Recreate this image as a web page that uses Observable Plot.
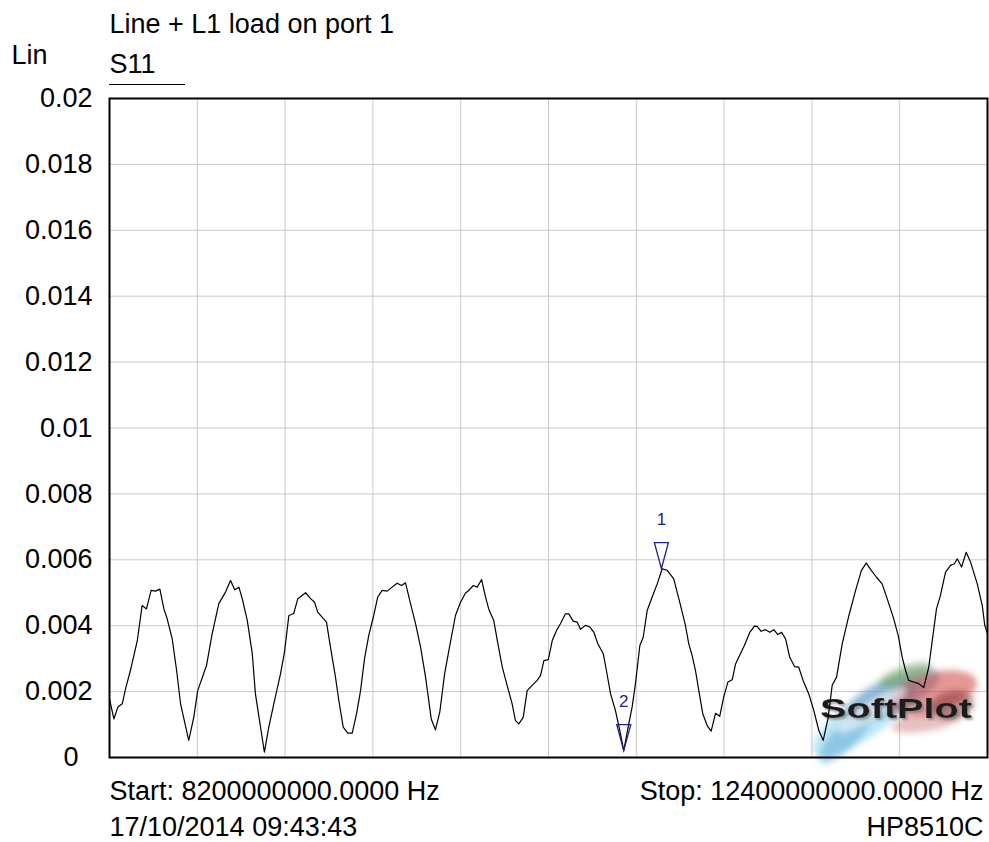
<!DOCTYPE html>
<html>
<head>
<meta charset="utf-8">
<script src="https://cdn.jsdelivr.net/npm/d3@7"></script>
<script src="https://cdn.jsdelivr.net/npm/@observablehq/plot@0.6"></script>
<style>
  html, body { margin: 0; padding: 0; background: #ffffff; }
  svg { display: block; }
</style>
</head>
<body>
<div id="chart"></div>
<script>
// ---------- data ----------
const titleText = "Line + L1 load on port 1";
const traceName = "S11";
const yUnit = "Lin";
const startText = "Start: 8200000000.0000 Hz";
const stopText = "Stop: 12400000000.0000 Hz";
const dateText = "17/10/2014 09:43:43";
const instrText = "HP8510C";

// frequency (GHz) of each trace point
const freqGHz = [8.200, 8.221, 8.240, 8.261, 8.277, 8.300, 8.333, 8.356, 8.377, 8.399,
  8.420, 8.441, 8.460, 8.476, 8.500, 8.521, 8.540, 8.579, 8.603, 8.622,
  8.664, 8.691, 8.723, 8.755, 8.779, 8.799, 8.819, 8.835, 8.859, 8.883,
  8.898, 8.941, 8.962, 8.986, 9.018, 9.037, 9.058, 9.081, 9.101, 9.138,
  9.162, 9.181, 9.196, 9.238, 9.257, 9.281, 9.297, 9.318, 9.340, 9.361,
  9.382, 9.401, 9.420, 9.440, 9.464, 9.483, 9.504, 9.528, 9.552, 9.576,
  9.597, 9.616, 9.640, 9.664, 9.688, 9.712, 9.739, 9.759, 9.780, 9.803,
  9.828, 9.855, 9.879, 9.903, 9.919, 9.940, 9.959, 9.980, 9.999, 10.014,
  10.038, 10.058, 10.079, 10.102, 10.126, 10.142, 10.158, 10.179, 10.198, 10.222,
  10.246, 10.262, 10.278, 10.299, 10.318, 10.338, 10.357, 10.381, 10.397, 10.418,
  10.437, 10.453, 10.477, 10.498, 10.517, 10.536, 10.562, 10.577, 10.597, 10.620,
  10.641, 10.660, 10.684, 10.700, 10.716, 10.737, 10.753, 10.772, 10.796, 10.820,
  10.844, 10.868, 10.899, 10.928, 10.955, 10.971, 10.987, 11.003, 11.019, 11.038,
  11.059, 11.078, 11.099, 11.119, 11.138, 11.158, 11.179, 11.195, 11.218, 11.237,
  11.263, 11.285, 11.298, 11.317, 11.338, 11.359, 11.378, 11.397, 11.415, 11.434,
  11.454, 11.477, 11.497, 11.518, 11.545, 11.569, 11.593, 11.614, 11.637, 11.657,
  11.678, 11.705, 11.737, 11.769, 11.797, 11.820, 11.844, 11.869, 11.896, 11.920,
  11.949, 11.973, 11.992, 12.008, 12.023, 12.047, 12.071, 12.095, 12.119, 12.140,
  12.156, 12.175, 12.199, 12.223, 12.242, 12.255, 12.276, 12.298, 12.319, 12.351,
  12.375, 12.387, 12.400];

// |S11| (linear) in thousandths
const s11_milli = [1.78, 1.17, 1.53, 1.63, 2.09, 2.64, 3.55, 4.61, 4.51, 5.07,
  5.05, 5.11, 4.51, 4.21, 3.60, 2.64, 1.63, 0.52, 1.22, 2.03,
  2.79, 3.75, 4.67, 5.02, 5.37, 5.09, 5.17, 4.82, 4.16, 3.15,
  1.93, 0.16, 0.92, 1.63, 2.54, 3.20, 4.31, 4.37, 4.82, 5.00,
  4.82, 4.71, 4.41, 4.11, 3.35, 2.44, 1.73, 0.92, 0.74, 0.74,
  1.33, 2.03, 3.00, 3.70, 4.31, 4.87, 5.07, 5.05, 5.17, 5.29,
  5.22, 5.30, 4.67, 4.06, 3.35, 2.44, 1.17, 0.84, 1.38, 2.54,
  3.40, 4.31, 4.71, 4.99, 5.07, 5.22, 5.17, 5.40, 4.87, 4.51,
  4.16, 3.45, 2.74, 2.19, 1.63, 1.12, 1.02, 1.22, 2.03, 2.19,
  2.34, 2.49, 2.94, 2.97, 3.55, 3.85, 4.06, 4.36, 4.36, 4.14,
  4.11, 3.89, 4.01, 3.96, 3.80, 3.45, 3.15, 2.64, 1.93, 1.43,
  0.82, 0.21, 1.02, 1.53, 2.24, 3.40, 3.65, 4.46, 4.87, 5.27,
  5.73, 5.68, 5.42, 4.71, 4.01, 3.45, 3.10, 2.64, 2.03, 1.33,
  0.97, 0.80, 1.34, 1.25, 1.83, 2.29, 2.36, 2.84, 3.15, 3.40,
  3.80, 3.99, 3.98, 3.83, 3.88, 3.80, 3.88, 3.73, 3.80, 3.60,
  3.04, 2.76, 2.74, 2.34, 1.93, 1.43, 0.82, 0.52, 1.18, 2.19,
  2.44, 3.45, 4.31, 5.07, 5.68, 5.90, 5.68, 5.47, 5.27, 4.82,
  4.26, 3.70, 3.04, 2.64, 2.34, 2.29, 2.24, 2.12, 2.74, 3.75,
  4.51, 4.92, 5.62, 5.83, 5.88, 6.03, 5.78, 6.23, 5.93, 5.27,
  4.61, 4.01, 3.76];

// markers
const markerLabels = ["1", "2"];
const markerFreqGHz = [10.84, 10.66];
const markerValue = [0.00573, 0.00021];

// axes
const yTicks = [0, 0.002, 0.004, 0.006, 0.008, 0.01, 0.012, 0.014, 0.016, 0.018, 0.02];
const yTickLabels = ["0", "0.002", "0.004", "0.006", "0.008", "0.01", "0.012", "0.014", "0.016", "0.018", "0.02"];
const xGridGHz = [8.2, 8.62, 9.04, 9.46, 9.88, 10.3, 10.72, 11.14, 11.56, 11.98, 12.4];

// ---------- build ----------
const FONT = "'Liberation Sans', Arial, Helvetica, sans-serif";
const FS = 27;
const MARK_COLOR = "#1c1c96";
const trace = freqGHz.map((f, i) => ({f, v: s11_milli[i] / 1000}));
const markers = markerLabels.map((label, i) => ({label, f: markerFreqGHz[i], v: markerValue[i]}));
const ticks = yTicks.map((v, i) => ({v, label: yTickLabels[i]}));
const ticksNonZero = ticks.filter(d => d.v !== 0);
const tickZero = ticks.filter(d => d.v === 0);

// inverted triangle, tip on the data point
const downTriangle = {
  draw(ctx) {
    ctx.moveTo(0, 0);
    ctx.lineTo(-7, -26);
    ctx.lineTo(7, -26);
    ctx.closePath();
  }
};

const SVGNS = "http://www.w3.org/2000/svg";

// small rule under the trace name
const traceUnderline = (index, scales, values, dims) => {
  const l = document.createElementNS(SVGNS, "line");
  const x0 = dims.marginLeft;
  const y0 = dims.marginTop - 13.5;
  l.setAttribute("x1", x0);
  l.setAttribute("x2", x0 + 76);
  l.setAttribute("y1", y0);
  l.setAttribute("y2", y0);
  l.setAttribute("stroke", "#000");
  l.setAttribute("stroke-width", 1);
  return l;
};

// SoftPlot watermark, anchored to the bottom-right corner of the frame
const softplotLogo = (index, scales, values, dims) => {
  const R = dims.width - dims.marginRight;
  const B = dims.height - dims.marginBottom;
  const g = document.createElementNS(SVGNS, "g");
  g.setAttribute("transform", `translate(${R},${B})`);
  g.setAttribute("text-anchor", "start");
  const blobs = [
    {cx: -122, cy: -40, rx: 62, ry: 20, rot: -35, fill: "#8fd8ec", op: 0.6},
    {cx: -142, cy: -20, rx: 35, ry: 12, rot: -45, fill: "#5aa6d6", op: 0.5},
    {cx: -95, cy: -62, rx: 52, ry: 18, rot: -25, fill: "#4f7fb0", op: 0.45},
    {cx: -55, cy: -64, rx: 46, ry: 20, rot: -15, fill: "#c8322b", op: 0.5},
    {cx: -60, cy: -36, rx: 36, ry: 10, rot: -10, fill: "#b03030", op: 0.3},
    {cx: -82, cy: -82, rx: 28, ry: 9, rot: -20, fill: "#5e9a3c", op: 0.45},
    {cx: -35, cy: -52, rx: 22, ry: 14, rot: -10, fill: "#7a1f1f", op: 0.45},
    {cx: -115, cy: -47, rx: 40, ry: 8, rot: -32, fill: "#eef8fc", op: 0.7}
  ];
  let html = `<defs>
    <filter id="logoBlur" x="-50%" y="-50%" width="200%" height="200%"><feGaussianBlur stdDeviation="3"/></filter>
    <filter id="logoShadow" x="-20%" y="-40%" width="140%" height="180%"><feDropShadow dx="2" dy="2" stdDeviation="1.2" flood-color="#777" flood-opacity="0.7"/></filter>
  </defs><g filter="url(#logoBlur)">`;
  for (const b of blobs) {
    html += `<ellipse cx="${b.cx}" cy="${b.cy}" rx="${b.rx}" ry="${b.ry}" fill="${b.fill}" fill-opacity="${b.op}" transform="rotate(${b.rot} ${b.cx} ${b.cy})"/>`;
  }
  html += `</g>`;
  const fam = FONT.replace(/'/g, "");
  html += `<text x="-167" y="-39" text-anchor="start" font-family="${fam}" font-weight="bold" font-size="28" fill="#1e1e1e" filter="url(#logoShadow)" textLength="152" lengthAdjust="spacingAndGlyphs">SoftPlot</text>`;
  g.innerHTML = html;
  return g;
};

const txt = (s, o) => Plot.text([s], {fontFamily: FONT, fontSize: FS, fill: "black", lineAnchor: "bottom", ...o});

const chart = Plot.plot({
  width: 989,
  height: 842,
  marginLeft: 109,
  marginRight: 2,
  marginTop: 98,
  marginBottom: 85,
  style: {fontFamily: FONT, fontSize: FS + "px", background: "white", color: "black", overflow: "visible"},
  x: {domain: [8.2, 12.4], axis: null},
  y: {domain: [0, 0.02], axis: null},
  marks: [
    Plot.ruleX(xGridGHz, {stroke: "#c9c9c9", strokeWidth: 1}),
    Plot.ruleY(yTicks, {stroke: "#c9c9c9", strokeWidth: 1}),
    softplotLogo,
    Plot.line(trace, {x: "f", y: "v", stroke: "black", strokeWidth: 1.2}),
    Plot.frame({stroke: "black", strokeWidth: 2}),
    // y tick labels
    Plot.text(ticksNonZero, {y: "v", text: "label", frameAnchor: "left", dx: -17, textAnchor: "end",
      lineAnchor: "middle", fontFamily: FONT, fontSize: FS, fill: "black"}),
    Plot.text(tickZero, {y: "v", text: "label", frameAnchor: "left", dx: -31, textAnchor: "end",
      lineAnchor: "middle", fontFamily: FONT, fontSize: FS, fill: "black"}),
    Plot.dot(markers, {x: "f", y: "v", symbol: downTriangle, stroke: MARK_COLOR, fill: "none", strokeWidth: 1.3}),
    Plot.text(markers, {x: "f", y: "v", text: "label", dy: -44, lineAnchor: "bottom", textAnchor: "middle",
      fill: MARK_COLOR, fontFamily: FONT, fontSize: 17}),
    txt(titleText, {frameAnchor: "top-left", textAnchor: "start", dy: -66}),
    txt(yUnit, {frameAnchor: "top-left", textAnchor: "start", dx: -98, dy: -35}),
    txt(traceName, {frameAnchor: "top-left", textAnchor: "start", dy: -26}),
    traceUnderline,
    txt(startText, {frameAnchor: "bottom-left", textAnchor: "start", dy: 42}),
    txt(dateText, {frameAnchor: "bottom-left", textAnchor: "start", dy: 78}),
    txt(stopText, {frameAnchor: "bottom-right", textAnchor: "end", dx: -4, dy: 42}),
    txt(instrText, {frameAnchor: "bottom-right", textAnchor: "end", dx: -4, dy: 78})
  ]
});

document.getElementById("chart").appendChild(chart);
</script>
</body>
</html>
